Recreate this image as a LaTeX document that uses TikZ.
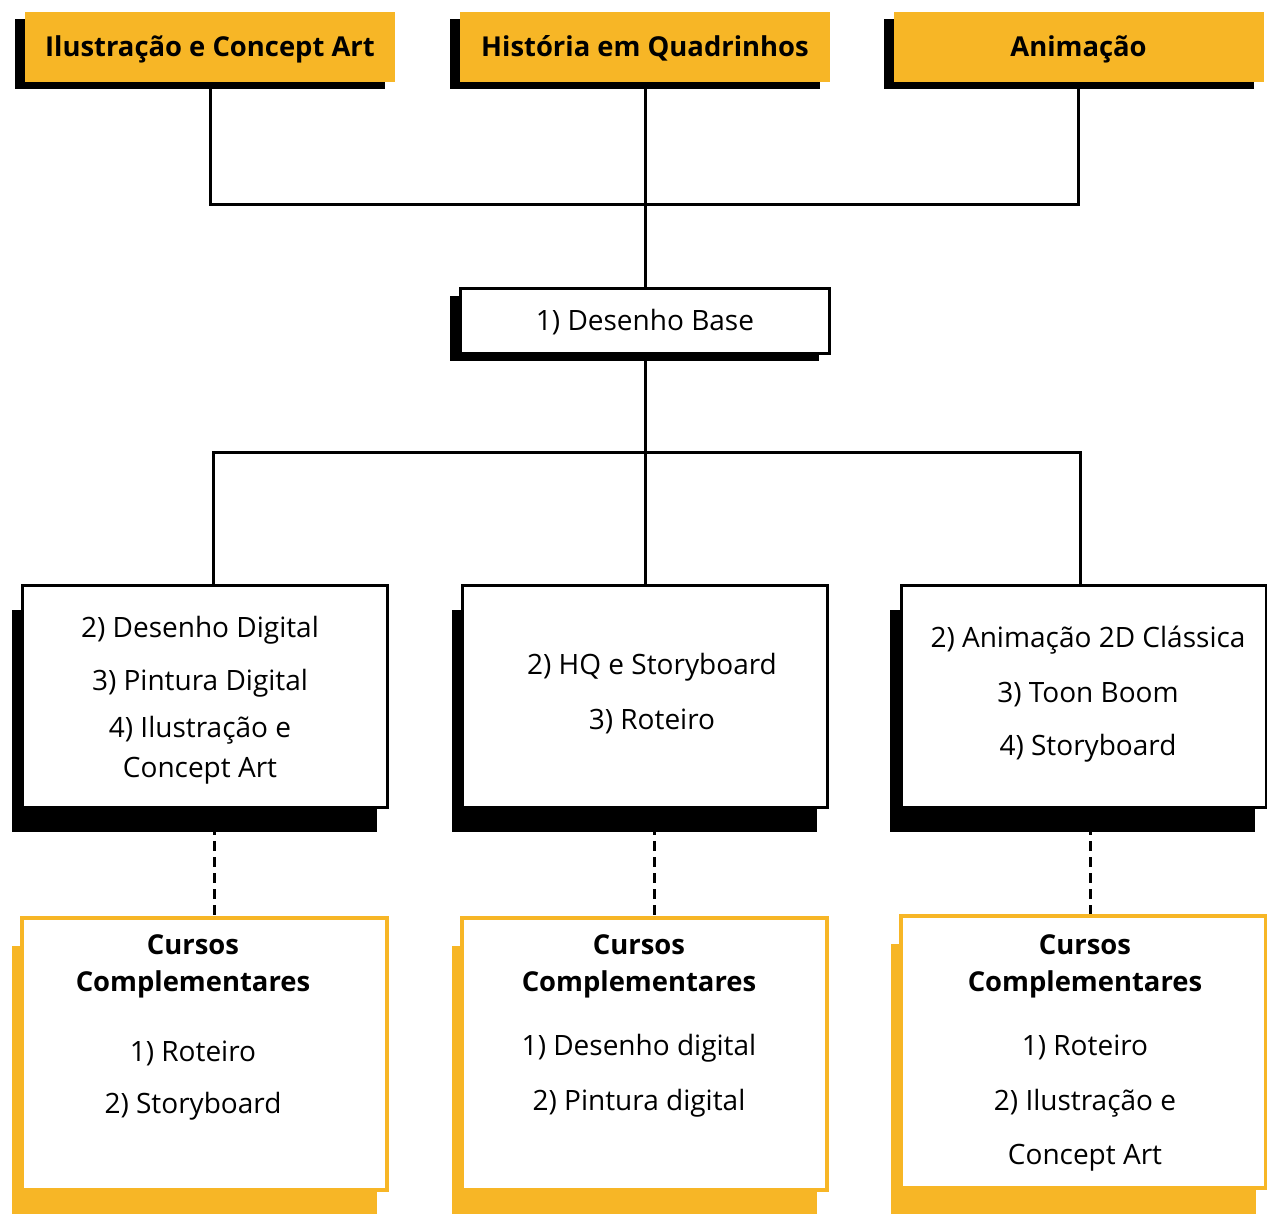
\documentclass[tikz,border=0pt]{standalone}
\usepackage{fontspec}
\setmainfont{Open Sans}
\usetikzlibrary{shadows,backgrounds}
\definecolor{ambar}{HTML}{F7B626}
\tikzset{
  topo/.style={fill=ambar, inner sep=0pt, minimum width=370pt, minimum height=70pt,
    text height=19.5pt, text depth=0pt, font=\fontsize{27.4}{30}\selectfont\bfseries,
    drop shadow={shadow xshift=-10pt, shadow yshift=-7pt, fill=black, opacity=1}},
  base/.style={draw=black, line width=3pt, fill=white, inner sep=0pt,
    minimum width=369pt, minimum height=65pt, text height=20pt, text depth=0pt,
    font=\fontsize{28}{30}\selectfont,
    drop shadow={shadow xshift=-11pt, shadow yshift=-8pt, fill=black, opacity=1}},
  trilha/.style={draw=black, line width=3pt, fill=white, inner sep=0pt,
    minimum width=365pt, minimum height=222pt,
    drop shadow={shadow xshift=-11pt, shadow yshift=-24pt, fill=black, opacity=1}},
  extra/.style={draw=ambar, line width=4pt, fill=white, inner sep=0pt,
    minimum width=365pt, minimum height=272pt,
    drop shadow={shadow xshift=-10pt, shadow yshift=-28pt, fill=ambar, opacity=1}},
  item/.style={anchor=base, inner sep=0pt, font=\fontsize{28}{30}\selectfont},
  titulo/.style={item, font=\fontsize{27.4}{30}\selectfont\bfseries},
  conector/.style={line width=3pt},
  tracejado/.style={line width=3pt, dash pattern=on 10pt off 6pt}
}
\begin{document}
\begin{tikzpicture}[x=1pt, y=-1pt]
\useasboundingbox (0,0) rectangle (1267,1214);

% areas
\node[topo] (ilus) at (210,47) {Ilustração e Concept Art};
\node[topo] (hq) at (645,47) {História em Quadrinhos};
\node[topo] (anim) at (1078.5,47) {Animação};

\node[base] (base) at (645,321) {1) Desenho Base};

% trilhas
\node[trilha] (trilhaA) at (205,696.5) {};
\node[trilha] (trilhaB) at (645,696.5) {};
\node[trilha] (trilhaC) at (1083.5,696.5) {};

\foreach \y/\txt [count=\i] in {637/2) Desenho Digital, 690/3) Pintura Digital,
    737/4) Ilustração e, 777/Concept Art}
  \node[item] (itA\i) at (200,\y) {\txt};
\foreach \y/\txt [count=\i] in {674/2) HQ e Storyboard, 729/3) Roteiro}
  \node[item] (itB\i) at (652,\y) {\txt};
\foreach \y/\txt [count=\i] in {647/2) Animação 2D Clássica, 702/3) Toon Boom,
    755/4) Storyboard}
  \node[item] (itC\i) at (1088,\y) {\txt};

% cursos complementares
\node[extra] (extraA) at (204,1054) {};
\node[extra] (extraB) at (644.5,1053.5) {};
\node[extra] (extraC) at (1083.5,1052) {};

\foreach \x/\n in {193/A, 639/B, 1085/C}{
  \node[titulo] (cursos\n) at (\x,954) {Cursos};
  \node[titulo] (compl\n) at (\x,991) {Complementares};
}
\foreach \y/\txt [count=\i] in {1061/1) Roteiro, 1113/2) Storyboard}
  \node[item] (exA\i) at (193,\y) {\txt};
\foreach \y/\txt [count=\i] in {1055/1) Desenho digital, 1110/2) Pintura digital}
  \node[item] (exB\i) at (639,\y) {\txt};
\foreach \y/\txt [count=\i] in {1055/1) Roteiro, 1110/2) Ilustração e, 1164/Concept Art}
  \node[item] (exC\i) at (1085,\y) {\txt};

\coordinate (jtopo) at (645,205);
\coordinate (jmeio) at (645,452.5);

\begin{scope}[on background layer]
\fill[white] (0,0) rectangle (1267,1214);
\draw[conector] (ilus.south) |- (jtopo) -| (anim.south);
\draw[conector] (hq.south) -- (base.north);
\draw[conector] (base.south) -- (trilhaB.north);
\draw[conector] ([xshift=8pt]trilhaA.north) |- (jmeio) -| ([xshift=-3.5pt]trilhaC.north);
\draw[tracejado] ([xshift=9pt]trilhaA.south) -- ([xshift=9pt]trilhaA.south |- extraA.north);
\draw[tracejado] ([xshift=9pt]trilhaB.south) -- ([xshift=9pt]trilhaB.south |- extraB.north);
\draw[tracejado] ([xshift=6.5pt]trilhaC.south) -- ([xshift=6.5pt]trilhaC.south |- extraC.north);
\end{scope}
\end{tikzpicture}
\end{document}
